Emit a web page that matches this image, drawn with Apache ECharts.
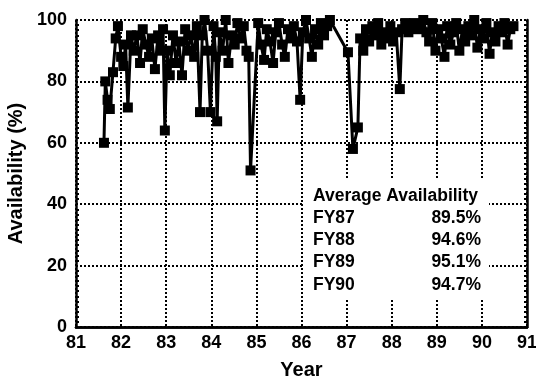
<!DOCTYPE html>
<html><head><meta charset="utf-8">
<script src="https://cdn.jsdelivr.net/npm/echarts@6/dist/echarts.min.js"></script>
<style>html,body{margin:0;padding:0;background:#fff}#c{width:536px;height:382px}</style>
</head><body><div id="c"></div>
<script>
// Decimal fiscal year of each observation
const years = [81.62,81.65,81.70,81.75,81.82,81.88,81.93,82.00,82.05,82.10,82.15,82.22,82.28,82.35,82.42,82.48,82.55,82.62,82.68,82.75,82.82,82.88,82.93,82.97,
83.02,83.08,83.15,83.22,83.28,83.35,83.42,83.48,83.55,83.62,83.68,83.75,83.80,83.85,83.92,83.98,84.05,84.10,84.13,84.18,84.25,84.32,84.38,84.45,84.52,84.58,84.65,84.72,84.78,84.83,84.87,
85.04,85.10,85.17,85.23,85.30,85.37,85.43,85.50,85.57,85.63,85.70,85.77,85.83,85.90,85.97,86.03,86.10,86.17,86.23,86.30,86.37,86.43,86.50,86.57,86.63,
87.03,87.14,87.25,87.30,87.37,87.43,87.50,87.57,87.63,87.70,87.77,87.83,87.90,87.97,88.03,88.10,88.18,88.23,88.30,88.37,88.43,88.50,88.57,88.63,88.70,88.77,88.83,88.90,88.97,
89.03,89.10,89.17,89.23,89.30,89.37,89.43,89.50,89.57,89.63,89.70,89.77,89.83,89.90,89.97,90.03,90.10,90.17,90.23,90.30,90.37,90.43,90.50,90.57,90.63,90.70];
// Availability (%)
const availability = [60,80,74,71,83,94,98,88,85,92,71.5,95,90,95,86,97,92,88,94,84,95,90,97,64,
90,82,95,86,93,82,97,90,95,88,98,70,95,100,90,70,98,88,67,96,90,100,86,95,92,99,94,98,90,88,51,
99,92,87,97,93,86,96,99,92,88,97,94,98,93,74,96,100,94,88,97,92,99,95,98,100,
89.5,58,65,94,90,97,93,98,95,99,92,96,94,98,93,96,77.5,97,99,96,98,99,97,98,100,96,93,99,90,
97,94,88,98,92,96,99,90,97,93,98,95,100,91,97,94,99,89,96,93,98,96,99,92,97,98];
const xMin = 81, xMax = 91, xStep = 1;
const yMin = 0, yMax = 100, yStep = 20;
const tableTitle = 'Average Availability';
const fyLabels = ['FY87','FY88','FY89','FY90'];
const fyValues = ['89.5%','94.6%','95.1%','94.7%'];

const FONT = "'Liberation Sans', Arial, Helvetica, sans-serif";
const chart = echarts.init(document.getElementById('c'), null, {renderer:'canvas'});
const data = years.map((y,i)=>[y, availability[i]]);

const gridLine = {show:true, lineStyle:{color:'#000', type:'dotted', width:2}};
const graphics = [{
  type:'rect', shape:{x:303,y:180,width:186,height:120}, style:{fill:'#fff'}, z:100
},{
  type:'text', x:313, y:196, z:101,
  style:{text:tableTitle, font:'bold 17.5px '+FONT, fill:'#000', align:'left', verticalAlign:'middle'}
}];
fyLabels.forEach((lab,i)=>{
  const yy = 218 + i*22.3;
  graphics.push({type:'text', x:313, y:yy, z:101,
    style:{text:lab, font:'bold 17.5px '+FONT, fill:'#000', align:'left', verticalAlign:'middle'}});
  graphics.push({type:'text', x:481, y:yy, z:101,
    style:{text:fyValues[i], font:'bold 17.5px '+FONT, fill:'#000', align:'right', verticalAlign:'middle'}});
});

chart.setOption({
  animation:false,
  backgroundColor:'#fff',
  grid:{left:76, right:9, top:20, bottom:55, containLabel:false, outerBoundsMode:'none'},
  xAxis:[{
    type:'value', min:xMin, max:xMax, interval:xStep,
    name:'Year', nameLocation:'middle', nameGap:33,
    nameTextStyle:{fontFamily:FONT, fontWeight:'bold', fontSize:20, color:'#000'},
    axisLine:{show:true, onZero:false, lineStyle:{color:'#000', width:2.5}},
    axisTick:{show:false},
    axisLabel:{fontFamily:FONT, fontWeight:'bold', fontSize:18, color:'#000', margin:7},
    splitLine:gridLine
  },{
    type:'value', min:xMin, max:xMax, position:'top',
    axisLine:{show:true, lineStyle:{color:'#000', width:2.5}},
    axisTick:{show:false}, axisLabel:{show:false}, splitLine:{show:false}
  }],
  yAxis:[{
    type:'value', min:yMin, max:yMax, interval:yStep,
    name:'Availability (%)', nameLocation:'middle', nameGap:48, nameRotate:90,
    nameTextStyle:{fontFamily:FONT, fontWeight:'bold', fontSize:20, color:'#000'},
    axisLine:{show:true, onZero:false, lineStyle:{color:'#000', width:2.5}},
    axisTick:{show:false, inside:true},
    minorTick:{show:true, splitNumber:12, length:3, lineStyle:{color:'#000', width:2}},
    axisLabel:{fontFamily:FONT, fontWeight:'bold', fontSize:18, color:'#000', margin:9},
    splitLine:gridLine
  },{
    type:'value', min:yMin, max:yMax, interval:yStep, position:'right',
    axisLine:{show:true, onZero:false, lineStyle:{color:'#000', width:2.5}},
    axisTick:{show:false, inside:true},
    minorTick:{show:true, splitNumber:12, length:3, lineStyle:{color:'#000', width:2}},
    axisLabel:{show:false}, splitLine:{show:false}
  }],
  series:[{
    type:'line', data:data, xAxisIndex:0, yAxisIndex:0,
    symbol:'rect', symbolSize:10, showAllSymbol:true,
    lineStyle:{color:'#000', width:3},
    itemStyle:{color:'#000'},
    z:5
  }],
  graphic:graphics
});
</script></body></html>
